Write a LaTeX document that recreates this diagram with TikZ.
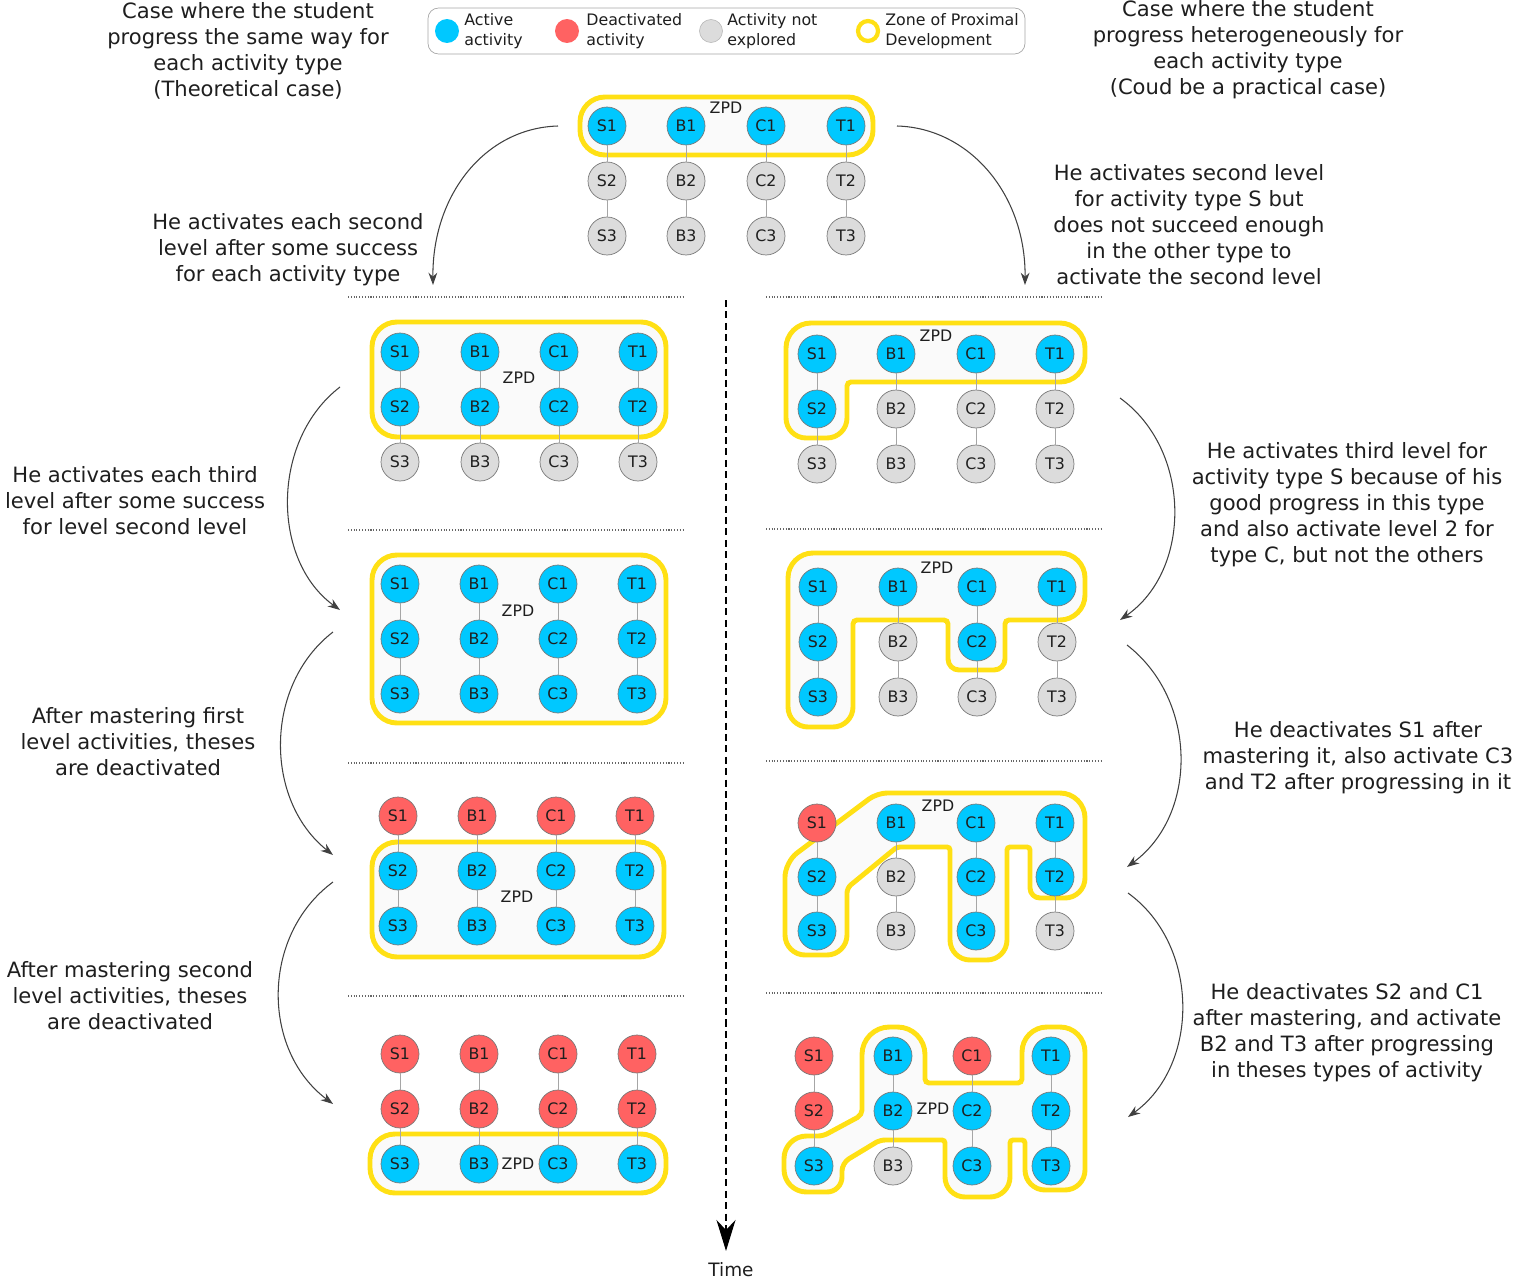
\documentclass[tikz,border=0pt]{standalone}
\usepackage{fontspec}
\setmainfont{DejaVu Sans}
\usetikzlibrary{arrows.meta}
\definecolor{actc}{RGB}{0,200,255}
\definecolor{deac}{RGB}{255,98,98}
\definecolor{unxc}{RGB}{220,220,220}
\definecolor{zyel}{RGB}{255,224,20}
\definecolor{zfill}{RGB}{250,250,250}
\definecolor{nbord}{RGB}{120,120,120}
\definecolor{txt}{RGB}{30,30,30}
\newcommand\mkpanel[5]{%
  \foreach \cl/\xx/\sa/\sb/\sc in {#5}{%
    \node[\sa] (#1-\cl1) at (\xx,#2) {\cl1};
    \node[\sb] (#1-\cl2) at (\xx,#3) {\cl2};
    \node[\sc] (#1-\cl3) at (\xx,#4) {\cl3};
    \draw[link] (#1-\cl1) -- (#1-\cl2) -- (#1-\cl3);
  }}
\begin{document}
\begin{tikzpicture}[x=0.02cm,y=-0.02cm,
  anode/.style={circle,draw=nbord,line width=0.4pt,minimum size=0.76cm,inner sep=0pt,
    font=\fontsize{9}{10}\selectfont,text=txt},
  act/.style={anode,fill=actc},
  dea/.style={anode,fill=deac},
  unx/.style={anode,fill=unxc},
  link/.style={draw=gray!70,line width=0.5pt},
  zpd/.style={draw=zyel,line width=2.8pt,fill=zfill},
  zlab/.style={font=\fontsize{9}{10}\selectfont,text=txt,inner sep=0pt},
  big/.style={font=\fontsize{12}{14.8}\selectfont,align=center,text=txt,inner sep=0pt},
  legt/.style={font=\fontsize{9}{11.4}\selectfont,align=left,anchor=west,text=txt,inner sep=0pt},
  sep/.style={densely dotted,draw=gray!80!black,line width=0.6pt},
  flow/.style={draw=black!75,line width=0.6pt,-{Stealth[length=7pt,width=5pt]}},
  rc/.style={rounded corners=#1},
]
\useasboundingbox (0,0) rectangle (1516,1281);

% ---------- legend
\draw[draw=gray!70,fill=white,rounded corners=6pt] (428,8) rectangle (1025,54);
\node[circle,fill=actc,minimum size=0.48cm,inner sep=0pt] (lg-act) at (447,31) {};
\node[legt] (lg-actt) at (464,31) {Active\\activity};
\node[circle,fill=deac,minimum size=0.48cm,inner sep=0pt] (lg-dea) at (567,31) {};
\node[legt] (lg-deat) at (586,31) {Deactivated\\activity};
\node[circle,fill=unxc,draw=gray!60,line width=0.3pt,minimum size=0.46cm,inner sep=0pt] (lg-unx) at (711,31) {};
\node[legt] (lg-unxt) at (727,31) {Activity not\\explored};
\node[circle,draw=zyel,line width=2.4pt,fill=white,minimum size=0.4cm,inner sep=0pt] (lg-zpd) at (868,31) {};
\node[legt] (lg-zpdt) at (885,31) {Zone of Proximal\\Development};

% ---------- big texts
\node[big] (txt-tl) at (248,51) {Case where the student\\progress the same way for\\each activity type\\(Theoretical case)};
\node[big] (txt-tr) at (1248,50) {Case where the student\\progress heterogeneously for\\each activity type\\(Coud be a practical case)};
\node[big] (txt-l1) at (288,250) {He activates each second\\level after some success\\for each activity type};
\node[big] (txt-r1) at (1189,225) {He activates second level\\for activity type S but\\does not succeed enough\\in the other type to\\activate the second level};
\node[big] (txt-l2) at (135,501) {He activates each third\\level after some success\\for level second level};
\node[big] (txt-r2) at (1347,505) {He activates third level for\\activity type S because of his\\good progress in this type\\and also activate level 2 for\\type C, but not the others};
\node[big] (txt-l3) at (138,742) {After mastering first\\level activities, theses\\are deactivated};
\node[big] (txt-r3) at (1358,758) {He deactivates S1 after\\mastering it, also activate C3\\and T2 after progressing in it};
\node[big] (txt-l4) at (130,996) {After mastering second\\level activities, theses\\are deactivated};
\node[big] (txt-r4) at (1347,1033) {He deactivates S2 and C1\\after mastering, and activate\\B2 and T3 after progressing\\in theses types of activity};

% ---------- separators
\foreach \yy/\i in {297/1,530/2,763/3,996/4}{
  \coordinate (sl\i a) at (348,\yy); \coordinate (sl\i b) at (685,\yy);
  \draw[sep] (sl\i a) -- (sl\i b);}
\foreach \yy/\i in {297/1,529/2,761/3,993/4}{
  \coordinate (sr\i a) at (766,\yy); \coordinate (sr\i b) at (1103,\yy);
  \draw[sep] (sr\i a) -- (sr\i b);}

% ---------- time axis
\coordinate (time-s) at (726,300);
\coordinate (time-e) at (726,1251);
\draw[dash pattern=on 4pt off 2.5pt,line width=1.1pt,-{Stealth[length=0.62cm,width=0.38cm,inset=0.2cm]}] (time-s) -- (time-e);
\node[font=\fontsize{10.5}{12}\selectfont,text=txt] (time) at (731,1270) {Time};

% ---------- ZPD shapes (left column and top)
\draw[zpd,rounded corners=0.5cm] (580,97) rectangle (873,155);
\draw[zpd,rounded corners=0.5cm] (372,322) rectangle (666,437);
\draw[zpd,rounded corners=0.5cm] (372,555) rectangle (666,723);
\draw[zpd,rounded corners=0.5cm] (372,842) rectangle (664,957);
\draw[zpd,rounded corners=0.5cm] (370,1134) rectangle (666,1193);

% ---------- ZPD shapes (right column)
\draw[zpd] (786,400)
  [rc=0.5cm] -- (786,323)
  [rc=0.5cm] -- (1085,323)
  [rc=0.5cm] -- (1085,382)
  [rc=0.08cm] -- (847,382)
  [rc=0.4cm] -- (847,438)
  [rc=0.4cm] -- (786,438)
  [sharp corners] -- cycle;
\draw[zpd] (788,640)
  [rc=0.5cm] -- (788,553)
  [rc=0.5cm] -- (1085,553)
  [rc=0.5cm] -- (1085,620)
  [rc=0.08cm] -- (1005,620)
  [rc=0.22cm] -- (1005,670)
  [rc=0.22cm] -- (948,670)
  [rc=0.08cm] -- (948,620)
  [rc=0.08cm] -- (853,620)
  [rc=0.4cm] -- (853,727)
  [rc=0.4cm] -- (788,727)
  [sharp corners] -- cycle;
\draw[zpd] (785,910)
  [rc=0.3cm] -- (785,862)
  [rc=0.2cm] -- (877,793)
  [rc=0.5cm] -- (1085,793)
  [rc=0.4cm] -- (1085,898)
  [rc=0.2cm] -- (1030,898)
  [rc=0.06cm] -- (1030,847)
  [rc=0.06cm] -- (1007,847)
  [rc=0.4cm] -- (1007,960)
  [rc=0.4cm] -- (950,960)
  [rc=0.06cm] -- (950,847)
  [rc=0.06cm] -- (897,847)
  [rc=0.1cm] -- (847,888)
  [rc=0.4cm] -- (847,955)
  [rc=0.4cm] -- (785,955)
  [sharp corners] -- cycle;
\draw[zpd] (862,1070)
  [rc=0.55cm] -- (862,1027)
  [rc=0.55cm] -- (925,1027)
  [rc=0.08cm] -- (925,1083)
  [rc=0.08cm] -- (1022,1083)
  [rc=0.5cm] -- (1022,1027)
  [rc=0.5cm] -- (1085,1027)
  [rc=0.4cm] -- (1085,1190)
  [rc=0.4cm] -- (1025,1190)
  [rc=0.06cm] -- (1025,1140)
  [rc=0.06cm] -- (1010,1140)
  [rc=0.4cm] -- (1010,1197)
  [rc=0.4cm] -- (945,1197)
  [rc=0.06cm] -- (945,1140)
  [rc=0.1cm] -- (880,1140)
  [rc=0.16cm] -- (842,1163)
  [rc=0.3cm] -- (842,1192)
  [rc=0.45cm] -- (784,1192)
  [rc=0.45cm] -- (784,1136)
  [rc=0.1cm] -- (823,1136)
  [rc=0.1cm] -- (862,1115)
  [sharp corners] -- cycle;

% ---------- ZPD labels
\node[zlab] (z-t) at (726,108) {ZPD};
\node[zlab] (z-la) at (519,378) {ZPD};
\node[zlab] (z-lb) at (518,611) {ZPD};
\node[zlab] (z-lc) at (517,897) {ZPD};
\node[zlab] (z-ld) at (518,1164) {ZPD};
\node[zlab] (z-ra) at (936,336) {ZPD};
\node[zlab] (z-rb) at (937,568) {ZPD};
\node[zlab] (z-rc) at (938,806) {ZPD};
\node[zlab] (z-rd) at (933,1109) {ZPD};

% ---------- activity grids
\mkpanel{t}{126}{181}{236}{S/607/act/unx/unx, B/686/act/unx/unx, C/766/act/unx/unx, T/846/act/unx/unx}
\mkpanel{la}{352}{407}{462}{S/400/act/act/unx, B/480/act/act/unx, C/559/act/act/unx, T/638/act/act/unx}
\mkpanel{lb}{584}{639}{694}{S/400/act/act/act, B/479/act/act/act, C/558/act/act/act, T/637/act/act/act}
\mkpanel{lc}{816}{871}{926}{S/398/dea/act/act, B/477/dea/act/act, C/556/dea/act/act, T/635/dea/act/act}
\mkpanel{ld}{1054}{1109}{1164}{S/400/dea/dea/act, B/479/dea/dea/act, C/558/dea/dea/act, T/637/dea/dea/act}
\mkpanel{ra}{354}{409}{464}{S/817/act/act/unx, B/896/act/unx/unx, C/976/act/unx/unx, T/1055/act/unx/unx}
\mkpanel{rb}{587}{642}{697}{S/818/act/act/act, B/898/act/unx/unx, C/977/act/act/unx, T/1057/act/unx/unx}
\mkpanel{rc}{823}{877}{931}{S/817/dea/act/act, B/896/act/unx/unx, C/976/act/act/act, T/1055/act/act/unx}
\mkpanel{rd}{1056}{1111}{1166}{S/814/dea/dea/act, B/893/act/act/unx, C/972/dea/act/act, T/1051/act/act/act}

% ---------- transition arrows
\coordinate (a0s) at (558,126); \coordinate (a0e) at (433,285);
\draw[flow] (a0s) .. controls (485,128) and (432,195) .. (a0e);
\coordinate (b0s) at (897,126); \coordinate (b0e) at (1025,285);
\draw[flow] (b0s) .. controls (970,128) and (1026,195) .. (b0e);
\coordinate (a1s) at (340,387); \coordinate (a1e) at (340,610);
\draw[flow] (a1s) .. controls (271,440) and (271,560) .. (a1e);
\coordinate (a2s) at (333,632); \coordinate (a2e) at (333,855);
\draw[flow] (a2s) .. controls (264,685) and (264,800) .. (a2e);
\coordinate (a3s) at (333,882); \coordinate (a3e) at (333,1104);
\draw[flow] (a3s) .. controls (261,935) and (261,1050) .. (a3e);
\coordinate (b1s) at (1120,398); \coordinate (b1e) at (1120,620);
\draw[flow] (b1s) .. controls (1192,450) and (1192,570) .. (b1e);
\coordinate (b2s) at (1127,645); \coordinate (b2e) at (1127,867);
\draw[flow] (b2s) .. controls (1198,700) and (1198,815) .. (b2e);
\coordinate (b3s) at (1128,893); \coordinate (b3e) at (1128,1117);
\draw[flow] (b3s) .. controls (1200,945) and (1200,1065) .. (b3e);
\end{tikzpicture}
\end{document}
